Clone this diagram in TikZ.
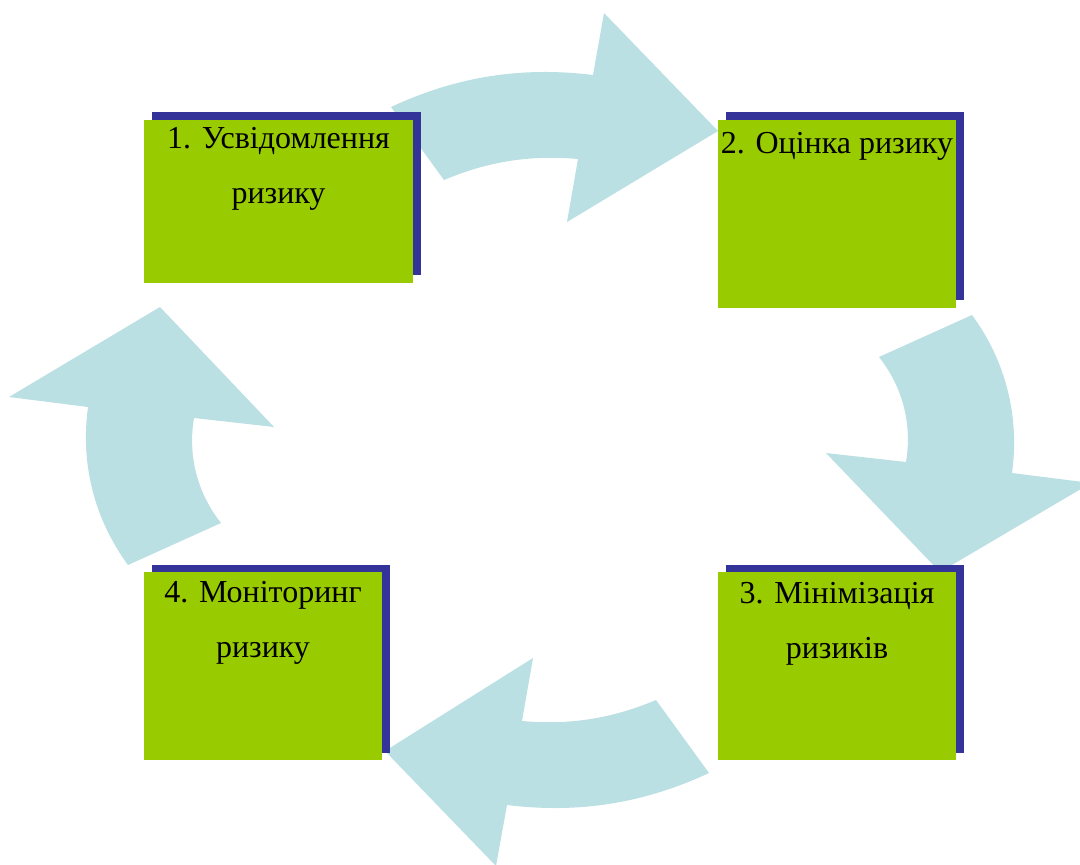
\documentclass[tikz,border=0pt]{standalone}
\usepackage{fontspec}
\setmainfont{Liberation Serif}
\definecolor{arrowblue}{HTML}{BBE0E3}
\definecolor{boxgreen}{HTML}{99CC00}
\definecolor{shadowblue}{HTML}{333399}
\tikzset{
  cyclearrow/.style={fill=arrowblue, draw=none},
  greenbox/.style={fill=boxgreen, draw=none, inner sep=0pt, outer sep=0pt, anchor=north west},
  shadowbox/.style={fill=shadowblue, draw=none, inner sep=0pt, outer sep=0pt, anchor=north west},
  lbl/.style={font=\fontsize{32}{38}\selectfont, anchor=base, inner sep=0pt, text=black},
  wide/.style={minimum width=269pt, minimum height=163pt},
  std/.style={minimum width=238pt, minimum height=188pt}
}
\begin{document}
\begin{tikzpicture}[x=1pt,y=-1pt]
\useasboundingbox (0,0) rectangle (1080,865);
\clip (0,0) rectangle (1080,865);
\fill[white] (0,0) rectangle (1080,865);
% curved arrows
\fill[cyclearrow] (391,107) to[bend left=16,looseness=0.9] (593,75) -- (604,13) -- (718,131) -- (567,222) -- (578,159) to[bend right=14,looseness=0.9] (444,180) -- cycle;
\fill[cyclearrow] (972,315) to[bend left=22,looseness=0.9] (1012,473) -- (1091,483) -- (940,572) -- (826,453) -- (906,462) to[bend right=24,looseness=0.9] (879,357) -- cycle;
\fill[cyclearrow] (709,773) to[bend left=16,looseness=0.9] (507,805) -- (496,866) -- (385,751) -- (533,658) -- (522,721) to[bend right=14,looseness=0.9] (656,700) -- cycle;
\fill[cyclearrow] (128,565) to[bend left=22,looseness=0.9] (88,407) -- (9,397) -- (160,307) -- (274,427) -- (194,418) to[bend right=24,looseness=0.9] (221,523) -- cycle;
% boxes
\node[shadowbox, wide] (s1) at (152,112) {};
\node[greenbox, wide] (b1) at (144,120) {};
\node[shadowbox, std] (s2) at (726,112) {};
\node[greenbox, std] (b2) at (718,120) {};
\node[shadowbox, std] (s3) at (726,565) {};
\node[greenbox, std] (b3) at (718,572) {};
\node[shadowbox, std] (s4) at (152,565) {};
\node[greenbox, std] (b4) at (144,572) {};
% labels
\node[lbl] (t1a) at (278.5,148) {1. Усвідомлення};
\node[lbl] (t1b) at (278.5,203) {ризику};
\node[lbl] (t2a) at (837,153) {2. Оцінка ризику};
\node[lbl] (t3a) at (837,603) {3. Мінімізація};
\node[lbl] (t3b) at (837,658) {ризиків};
\node[lbl] (t4a) at (263,602) {4. Моніторинг};
\node[lbl] (t4b) at (263,657) {ризику};
\end{tikzpicture}
\end{document}
